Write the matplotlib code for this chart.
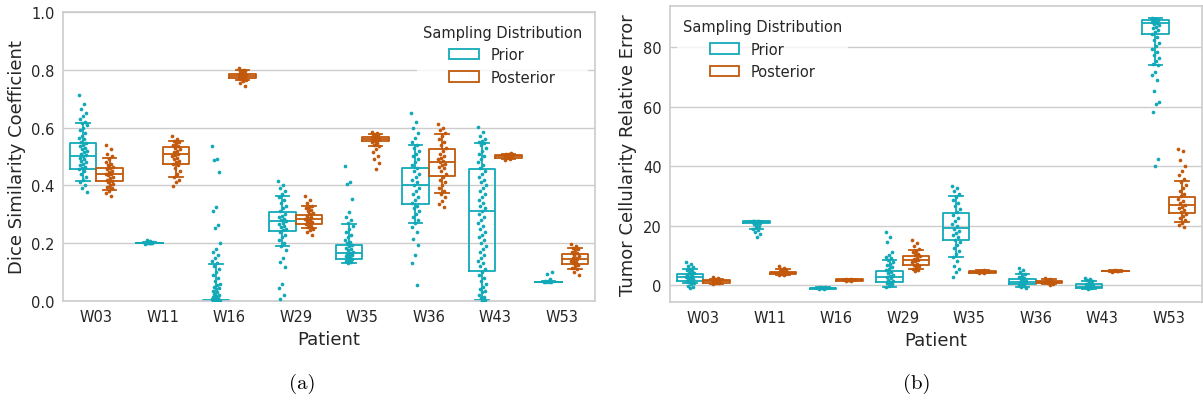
import numpy as np
import matplotlib
matplotlib.use("Agg")
import matplotlib.pyplot as plt
from matplotlib.patches import Patch

patients = ["W03", "W11", "W16", "W29", "W35", "W36", "W43", "W53"]
prior_color = "#11a9b8"
post_color = "#c2580b"

# box stats per patient: [whisker low, q1, median, q3, whisker high]
dsc_prior_box = [
    [0.416, 0.456, 0.502, 0.548, 0.615],
    [0.199, 0.200, 0.201, 0.202, 0.204],
    [0.000, 0.000, 0.001, 0.004, 0.129],
    [0.190, 0.241, 0.275, 0.309, 0.362],
    [0.132, 0.146, 0.167, 0.194, 0.267],
    [0.269, 0.336, 0.402, 0.460, 0.540],
    [0.002, 0.104, 0.310, 0.455, 0.548],
    [0.064, 0.065, 0.066, 0.067, 0.069],
]
dsc_post_box = [
    [0.385, 0.414, 0.439, 0.460, 0.493],
    [0.430, 0.474, 0.508, 0.534, 0.552],
    [0.763, 0.772, 0.780, 0.787, 0.799],
    [0.252, 0.267, 0.284, 0.299, 0.328],
    [0.537, 0.553, 0.562, 0.568, 0.579],
    [0.372, 0.431, 0.481, 0.525, 0.579],
    [0.490, 0.495, 0.500, 0.504, 0.510],
    [0.109, 0.129, 0.145, 0.162, 0.184],
]
tcre_prior_box = [
    [0.6, 1.35, 2.7, 3.8, 5.4],
    [19.0, 20.7, 21.15, 21.5, 21.6],
    [-1.3, -1.2, -1.05, -0.9, -0.7],
    [-0.5, 0.9, 2.8, 4.8, 8.4],
    [9.3, 15.2, 19.3, 24.3, 29.9],
    [-0.8, 0.35, 1.1, 2.1, 3.6],
    [-1.2, -1.0, -0.5, 0.2, 1.35],
    [73.9, 84.5, 88.1, 89.2, 89.8],
]
tcre_post_box = [
    [0.5, 0.8, 1.24, 1.7, 2.0],
    [3.4, 3.7, 4.15, 4.5, 5.4],
    [1.4, 1.5, 1.7, 1.9, 2.0],
    [5.4, 6.9, 8.4, 9.9, 11.8],
    [4.0, 4.2, 4.4, 4.6, 4.9],
    [0.3, 0.6, 1.0, 1.5, 2.1],
    [4.4, 4.6, 4.7, 4.8, 5.0],
    [21.3, 24.1, 26.9, 29.7, 35.1],
]

# sample values read from the strip points
dsc_prior_pts = [
    [0.711, 0.68, 0.665, 0.65, 0.64, 0.63, 0.62, 0.615, 0.61, 0.60, 0.59, 0.58, 0.57, 0.565, 0.56,
     0.55, 0.545, 0.54, 0.535, 0.53, 0.525, 0.52, 0.515, 0.51, 0.505, 0.50, 0.495, 0.49, 0.485,
     0.48, 0.475, 0.47, 0.465, 0.46, 0.455, 0.45, 0.44, 0.43, 0.42, 0.41, 0.40, 0.39, 0.378],
    [0.198, 0.199, 0.200, 0.200, 0.201, 0.201, 0.202, 0.203, 0.205, 0.208, 0.212],
    [0.537, 0.491, 0.489, 0.445, 0.326, 0.311, 0.264, 0.252, 0.201, 0.18, 0.17, 0.16, 0.15, 0.14,
     0.13, 0.12, 0.11, 0.10, 0.09, 0.08, 0.07, 0.06, 0.055, 0.05, 0.045, 0.04, 0.035, 0.03, 0.025,
     0.02, 0.018, 0.015, 0.012, 0.01, 0.008, 0.006, 0.004, 0.003, 0.002, 0.001, 0.0, 0.0, 0.0],
    [0.416, 0.40, 0.39, 0.38, 0.37, 0.36, 0.35, 0.34, 0.33, 0.32, 0.31, 0.30, 0.295, 0.29, 0.285,
     0.28, 0.275, 0.27, 0.265, 0.26, 0.255, 0.25, 0.245, 0.24, 0.23, 0.22, 0.21, 0.20, 0.19, 0.175,
     0.15, 0.135, 0.116, 0.06, 0.045, 0.02, 0.008],
    [0.468, 0.41, 0.405, 0.353, 0.308, 0.29, 0.28, 0.27, 0.26, 0.25, 0.24, 0.23, 0.22, 0.21, 0.205,
     0.20, 0.195, 0.19, 0.185, 0.18, 0.175, 0.17, 0.167, 0.164, 0.16, 0.157, 0.154, 0.15, 0.147,
     0.144, 0.14, 0.137, 0.134, 0.132],
    [0.652, 0.62, 0.60, 0.58, 0.565, 0.55, 0.54, 0.53, 0.52, 0.51, 0.50, 0.49, 0.48, 0.47, 0.46,
     0.45, 0.44, 0.43, 0.42, 0.41, 0.40, 0.39, 0.38, 0.37, 0.36, 0.35, 0.34, 0.33, 0.32, 0.31, 0.30,
     0.29, 0.28, 0.27, 0.255, 0.239, 0.215, 0.192, 0.16, 0.131, 0.054],
    [0.603, 0.585, 0.57, 0.56, 0.555, 0.55, 0.545, 0.54, 0.53, 0.52, 0.51, 0.50, 0.49, 0.48, 0.47,
     0.46, 0.45, 0.44, 0.43, 0.42, 0.41, 0.40, 0.39, 0.38, 0.37, 0.36, 0.35, 0.34, 0.33, 0.32, 0.31,
     0.30, 0.29, 0.28, 0.27, 0.26, 0.25, 0.24, 0.23, 0.22, 0.21, 0.20, 0.19, 0.18, 0.17, 0.16, 0.15,
     0.14, 0.13, 0.12, 0.11, 0.10, 0.09, 0.08, 0.07, 0.06, 0.05, 0.04, 0.035, 0.03, 0.02, 0.015,
     0.01, 0.005, 0.0],
    [0.064, 0.065, 0.066, 0.067, 0.068, 0.07, 0.075, 0.095, 0.10],
]
dsc_post_pts = [
    [0.539, 0.525, 0.51, 0.50, 0.49, 0.48, 0.475, 0.47, 0.465, 0.46, 0.455, 0.45, 0.445, 0.44,
     0.438, 0.435, 0.43, 0.425, 0.42, 0.415, 0.41, 0.405, 0.40, 0.395, 0.39, 0.38, 0.372, 0.362],
    [0.571, 0.56, 0.555, 0.55, 0.545, 0.54, 0.535, 0.53, 0.525, 0.52, 0.515, 0.51, 0.505, 0.50,
     0.495, 0.49, 0.485, 0.48, 0.475, 0.47, 0.46, 0.45, 0.44, 0.43, 0.42, 0.41, 0.397],
    [0.805, 0.80, 0.797, 0.794, 0.79, 0.787, 0.785, 0.783, 0.781, 0.78, 0.779, 0.777, 0.775, 0.773,
     0.77, 0.767, 0.764, 0.76, 0.755, 0.745],
    [0.362, 0.35, 0.34, 0.33, 0.325, 0.32, 0.315, 0.31, 0.305, 0.30, 0.295, 0.29, 0.287, 0.284,
     0.28, 0.277, 0.273, 0.27, 0.265, 0.26, 0.255, 0.25, 0.245, 0.24, 0.23],
    [0.583, 0.58, 0.577, 0.574, 0.571, 0.568, 0.566, 0.564, 0.562, 0.56, 0.558, 0.556, 0.553, 0.55,
     0.545, 0.54, 0.535, 0.525, 0.515, 0.50, 0.49, 0.479, 0.456],
    [0.614, 0.60, 0.59, 0.58, 0.57, 0.56, 0.55, 0.54, 0.53, 0.52, 0.51, 0.50, 0.495, 0.49, 0.485,
     0.48, 0.475, 0.47, 0.465, 0.46, 0.45, 0.44, 0.43, 0.42, 0.41, 0.40, 0.39, 0.38, 0.37, 0.36,
     0.345, 0.335, 0.324],
    [0.487, 0.492, 0.495, 0.497, 0.499, 0.50, 0.501, 0.503, 0.505, 0.507, 0.51, 0.512],
    [0.198, 0.19, 0.185, 0.18, 0.175, 0.17, 0.165, 0.16, 0.155, 0.15, 0.147, 0.144, 0.14, 0.137,
     0.134, 0.13, 0.125, 0.12, 0.115, 0.11, 0.10, 0.091],
]
tcre_prior_pts = [
    [7.6, 7.0, 6.5, 6.0, 5.5, 5.0, 4.6, 4.2, 3.9, 3.6, 3.3, 3.0, 2.8, 2.6, 2.4, 2.2, 2.0, 1.8, 1.5,
     1.2, 0.9, 0.6, 0.2, -0.3, -0.7, -1.1],
    [21.7, 21.6, 21.5, 21.4, 21.3, 21.2, 21.1, 21.0, 20.9, 20.7, 20.4, 20.0, 19.5, 19.0, 18.5, 18.0,
     17.2, 16.2],
    [-1.3, -1.2, -1.1, -1.0, -0.9, -0.8, -0.6],
    [17.9, 16.2, 14.6, 11.2, 10.1, 9.5, 9.0, 8.4, 7.8, 7.2, 6.6, 6.0, 5.5, 5.0, 4.5, 4.0, 3.5, 3.0,
     2.6, 2.2, 1.8, 1.4, 1.0, 0.6, 0.2, -0.2, -0.6],
    [33.4, 32.5, 31.5, 30.5, 29.5, 28.5, 27.5, 26.5, 25.5, 24.5, 23.5, 22.5, 21.5, 20.5, 19.8, 19.0,
     18.2, 17.5, 16.8, 16.0, 15.2, 14.4, 13.5, 12.5, 11.5, 10.5, 9.5, 8.0, 6.5, 5.5, 4.5, 2.8],
    [5.8, 5.0, 4.4, 3.8, 3.2, 2.7, 2.3, 1.9, 1.5, 1.2, 0.9, 0.6, 0.3, 0.0, -0.4, -0.8, -1.0],
    [2.5, 2.0, 1.6, 1.2, 0.8, 0.5, 0.2, -0.1, -0.4, -0.6, -0.8, -1.0, -1.2],
    [89.8, 89.5, 89.2, 89.0, 88.7, 88.4, 88.1, 87.7, 87.3, 86.8, 86.3, 85.7, 85.0, 84.3, 83.5, 82.5,
     81.5, 80.5, 79.5, 78.5, 77.5, 76.5, 75.5, 74.5, 73.9, 71.6, 70.5, 68.8, 65.3, 61.6, 60.8, 58.2,
     42.5, 40.0],
]
tcre_post_pts = [
    [2.6, 2.3, 2.1, 1.9, 1.7, 1.5, 1.3, 1.2, 1.1, 1.0, 0.9, 0.8, 0.6, 0.4],
    [6.3, 5.8, 5.4, 5.1, 4.9, 4.7, 4.5, 4.3, 4.2, 4.1, 4.0, 3.9, 3.7, 3.5, 3.3],
    [1.4, 1.5, 1.6, 1.7, 1.8, 1.9, 2.1],
    [15.1, 14.0, 13.0, 12.2, 11.6, 11.0, 10.5, 10.0, 9.6, 9.2, 8.8, 8.4, 8.0, 7.6, 7.2, 6.8, 6.4,
     6.0, 5.5, 5.0, 4.7],
    [3.9, 4.1, 4.3, 4.4, 4.5, 4.7, 5.1],
    [2.3, 2.0, 1.7, 1.4, 1.2, 1.0, 0.8, 0.6, 0.4, 0.1],
    [4.4, 4.6, 4.7, 4.8, 5.1],
    [45.7, 45.0, 42.0, 40.0, 38.5, 37.0, 35.5, 34.5, 33.5, 32.5, 31.5, 30.5, 29.8, 29.0, 28.3, 27.6,
     27.0, 26.4, 25.8, 25.2, 24.6, 24.0, 23.3, 22.5, 21.8, 21.0, 20.3, 19.6],
]

plt.rcParams["font.family"] = ["DejaVu Sans"]
plt.rcParams["text.color"] = "0.15"
plt.rcParams["axes.labelcolor"] = "0.15"
plt.rcParams["xtick.color"] = "0.15"
plt.rcParams["ytick.color"] = "0.15"


def draw_panel(ax, prior_box, post_box, prior_pts, post_pts):
    for boxes, pts, off, col in [(prior_box, prior_pts, -0.2, prior_color),
                                 (post_box, post_pts, 0.2, post_color)]:
        stats = [dict(whislo=b[0], q1=b[1], med=b[2], q3=b[3], whishi=b[4]) for b in boxes]
        pos = np.arange(len(boxes)) + off
        lp = dict(color=col, linewidth=1.3)
        ax.bxp(stats, positions=pos, widths=0.4, capwidths=0.2, showfliers=False,
               boxprops=lp, whiskerprops=lp, capprops=lp, medianprops=lp, manage_ticks=False,
               zorder=2)
        for i, vals in enumerate(pts):
            n = len(vals)
            jit = ((np.arange(n) * 0.618034) % 1.0 - 0.5) * 0.12
            ax.scatter(pos[i] + jit, vals, s=7, color=col, linewidths=0, zorder=3)
    ax.set_xticks(range(len(patients)))
    ax.set_xticklabels(patients)
    ax.set_xlim(-0.5, len(patients) - 0.5)
    ax.set_xlabel("Patient", fontsize=13)
    ax.tick_params(length=0, labelsize=10.5, pad=6)
    ax.grid(axis="y", color="0.8", linewidth=1)
    ax.set_axisbelow(True)
    for s in ax.spines.values():
        s.set_color("0.8")
        s.set_linewidth(1.2)


fig = plt.figure(figsize=(12.03, 4.02), dpi=100)
ax1 = fig.add_axes([0.0524, 0.2488, 0.4422, 0.719])
ax2 = fig.add_axes([0.557, 0.2463, 0.4422, 0.736])

draw_panel(ax1, dsc_prior_box, dsc_post_box, dsc_prior_pts, dsc_post_pts)
ax1.set_ylim(0, 1.0)
ax1.set_yticks([0, 0.2, 0.4, 0.6, 0.8, 1.0])
ax1.set_ylabel("Dice Similarity Coefficient", fontsize=13)

draw_panel(ax2, tcre_prior_box, tcre_post_box, tcre_prior_pts, tcre_post_pts)
ax2.set_ylim(-5.7, 93.8)
ax2.set_yticks([0, 20, 40, 60, 80])
ax2.set_ylabel("Tumor Cellularity Relative Error", fontsize=13)

handles = [Patch(facecolor="white", edgecolor=prior_color, linewidth=1.3, label="Prior"),
           Patch(facecolor="white", edgecolor=post_color, linewidth=1.3, label="Posterior")]
for ax, loc in [(ax1, "upper right"), (ax2, "upper left")]:
    leg = ax.legend(handles=handles, title="Sampling Distribution", loc=loc,
                    fontsize=10.5, title_fontsize=10.5, frameon=True)
    leg.get_frame().set_edgecolor("none")

fig.text(0.2515, 0.045, "(a)", fontfamily="cmr10", fontsize=15, ha="center", va="center", color="black")
fig.text(0.762, 0.045, "(b)", fontfamily="cmr10", fontsize=15, ha="center", va="center", color="black")

fig.savefig("out.png", dpi=100)
